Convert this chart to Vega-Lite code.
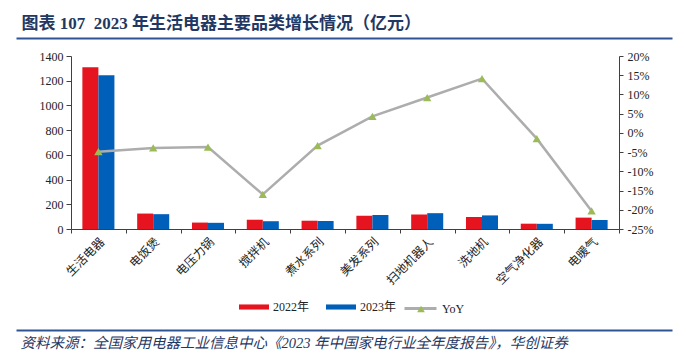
{
  "$schema": "https://vega.github.io/schema/vega-lite/v6.json",
  "width": 548,
  "height": 173,
  "autosize": "none",
  "padding": {"left": 71, "top": 56, "right": 67, "bottom": 132},
  "background": "white",
  "config": {
    "view": {"stroke": null},
    "axis": {
      "labelFont": "Liberation Serif, Noto Sans CJK SC",
      "titleFont": "Liberation Serif, Noto Sans CJK SC",
      "labelFontSize": 12,
      "labelColor": "#222222",
      "domainColor": "#404040",
      "tickColor": "#404040",
      "grid": false
    },
    "legend": {
      "labelFont": "Liberation Serif, Noto Sans CJK SC",
      "labelFontSize": 12,
      "labelColor": "#222222"
    }
  },
  "datasets": {
    "bars": [
      {"cat": "生活电器", "year": "2022年", "value": 1308},
      {"cat": "生活电器", "year": "2023年", "value": 1244},
      {"cat": "电饭煲", "year": "2022年", "value": 125},
      {"cat": "电饭煲", "year": "2023年", "value": 120},
      {"cat": "电压力锅", "year": "2022年", "value": 52},
      {"cat": "电压力锅", "year": "2023年", "value": 50},
      {"cat": "搅拌机", "year": "2022年", "value": 75},
      {"cat": "搅拌机", "year": "2023年", "value": 63},
      {"cat": "煮水系列", "year": "2022年", "value": 67},
      {"cat": "煮水系列", "year": "2023年", "value": 65},
      {"cat": "美发系列", "year": "2022年", "value": 108},
      {"cat": "美发系列", "year": "2023年", "value": 113},
      {"cat": "扫地机器人", "year": "2022年", "value": 117},
      {"cat": "扫地机器人", "year": "2023年", "value": 128},
      {"cat": "洗地机", "year": "2022年", "value": 97},
      {"cat": "洗地机", "year": "2023年", "value": 110},
      {"cat": "空气净化器", "year": "2022年", "value": 43},
      {"cat": "空气净化器", "year": "2023年", "value": 42},
      {"cat": "电暖气", "year": "2022年", "value": 92},
      {"cat": "电暖气", "year": "2023年", "value": 73}
    ],
    "yoy": [
      {"cat": "生活电器", "yoy": -4.9},
      {"cat": "电饭煲", "yoy": -3.9},
      {"cat": "电压力锅", "yoy": -3.7},
      {"cat": "搅拌机", "yoy": -16.0},
      {"cat": "煮水系列", "yoy": -3.3},
      {"cat": "美发系列", "yoy": 4.3},
      {"cat": "扫地机器人", "yoy": 9.2},
      {"cat": "洗地机", "yoy": 14.1},
      {"cat": "空气净化器", "yoy": -1.5},
      {"cat": "电暖气", "yoy": -20.3}
    ]
  },
  "layer": [
    {
      "data": {"name": "bars"},
      "mark": {"type": "bar"},
      "encoding": {
        "x": {
          "field": "cat", "type": "nominal", "sort": null,
          "scale": {"paddingInner": 0, "paddingOuter": 0},
          "axis": {"orient": "bottom", "title": null, "labelAngle": -45, "tickBand": "extent", "tickSize": 4, "labelPadding": 3, "labelFont": "Noto Sans CJK SC", "labelFontSize": 12}
        },
        "xOffset": {"field": "year", "type": "nominal", "scale": {"paddingInner": 0, "paddingOuter": 0.71}},
        "y": {
          "field": "value", "type": "quantitative",
          "scale": {"domain": [0, 1400], "nice": false},
          "axis": {"orient": "left", "title": null, "format": "d", "values": [0, 200, 400, 600, 800, 1000, 1200, 1400], "tickSize": 5, "labelPadding": 3}
        },
        "color": {
          "field": "year", "type": "nominal",
          "scale": {"domain": ["2022年", "2023年"], "range": ["#E6141E", "#005FB8"]},
          "legend": {"orient": "none", "legendX": 168, "legendY": 236, "direction": "horizontal", "title": null, "symbolType": "M-1,-0.17H1V0.17H-1Z", "symbolSize": 900, "symbolStrokeWidth": 0, "labelOffset": 4, "columnPadding": 16}
        }
      }
    },
    {
      "data": {"name": "yoy"},
      "mark": {"type": "line", "strokeWidth": 2.5},
      "encoding": {
        "x": {"field": "cat", "type": "nominal", "sort": null, "scale": {"paddingInner": 0, "paddingOuter": 0}, "axis": null},
        "y": {
          "field": "yoy", "type": "quantitative",
          "scale": {"domain": [-25, 20], "nice": false},
          "axis": {"orient": "right", "title": null, "values": [-25, -20, -15, -10, -5, 0, 5, 10, 15, 20], "labelExpr": "datum.value + '%'", "tickSize": 4, "labelPadding": 4}
        },
        "stroke": {
          "datum": "YoY", "type": "nominal",
          "scale": {"range": ["#ADADAD"]},
          "legend": {"orient": "none", "legendX": 332, "legendY": 235, "title": null, "symbolType": "stroke", "symbolSize": 1024, "symbolStrokeWidth": 3, "labelOffset": 4}
        }
      }
    },
    {
      "data": {"name": "yoy"},
      "mark": {"type": "point", "shape": "triangle-up", "filled": true, "size": 70, "opacity": 1},
      "encoding": {
        "x": {"field": "cat", "type": "nominal", "sort": null, "scale": {"paddingInner": 0, "paddingOuter": 0}, "axis": null},
        "y": {"field": "yoy", "type": "quantitative", "scale": {"domain": [-25, 20], "nice": false}, "axis": null},
        "fill": {
          "datum": "YoY marker", "type": "nominal",
          "scale": {"range": ["#9BBB59"]},
          "legend": {"orient": "none", "legendX": 344, "legendY": 247, "title": null, "symbolType": "triangle-up", "symbolSize": 60, "symbolStrokeWidth": 0, "labelExpr": "''"}
        }
      }
    },
    {
      "data": {"values": []},
      "mark": {"type": "rule", "opacity": 0},
      "encoding": {
        "x": {
          "field": "h", "type": "quantitative",
          "scale": {"domain": [0, 1], "range": [-55, 601]},
          "axis": {"orient": "top", "offset": 18, "domainColor": "#2F5496", "domainWidth": 2, "ticks": false, "labels": false, "grid": false,
            "title": "图表 107\u00a0 2023 年生活电器主要品类增长情况（亿元）", "titleAnchor": "start", "titleAlign": "left", "titleX": -50, "titlePadding": 6,
            "titleFont": "Liberation Serif, Noto Sans CJK SC", "titleFontSize": 17, "titleFontWeight": "bold", "titleColor": "#1F3864"}
        }
      }
    },
    {
      "data": {"values": []},
      "mark": {"type": "rule", "opacity": 0},
      "encoding": {
        "x": {
          "field": "f", "type": "quantitative",
          "scale": {"domain": [0, 1], "range": [-55, 601]},
          "axis": {"orient": "bottom", "offset": 101, "domainColor": "#2F5496", "domainWidth": 2, "ticks": false, "labels": false, "grid": false,
            "title": "资料来源：全国家用电器工业信息中心《2023 年中国家电行业全年度报告》，华创证券", "titleAnchor": "start", "titleAlign": "left", "titleX": -51, "titlePadding": 6,
            "titleFont": "Liberation Serif, Noto Sans CJK SC", "titleFontSize": 14.5, "titleFontWeight": "normal", "titleFontStyle": "italic", "titleColor": "#1F3864"}
        }
      }
    }
  ],
  "resolve": {"scale": {"x": "independent", "y": "independent"}, "axis": {"x": "independent", "y": "independent"}}
}
